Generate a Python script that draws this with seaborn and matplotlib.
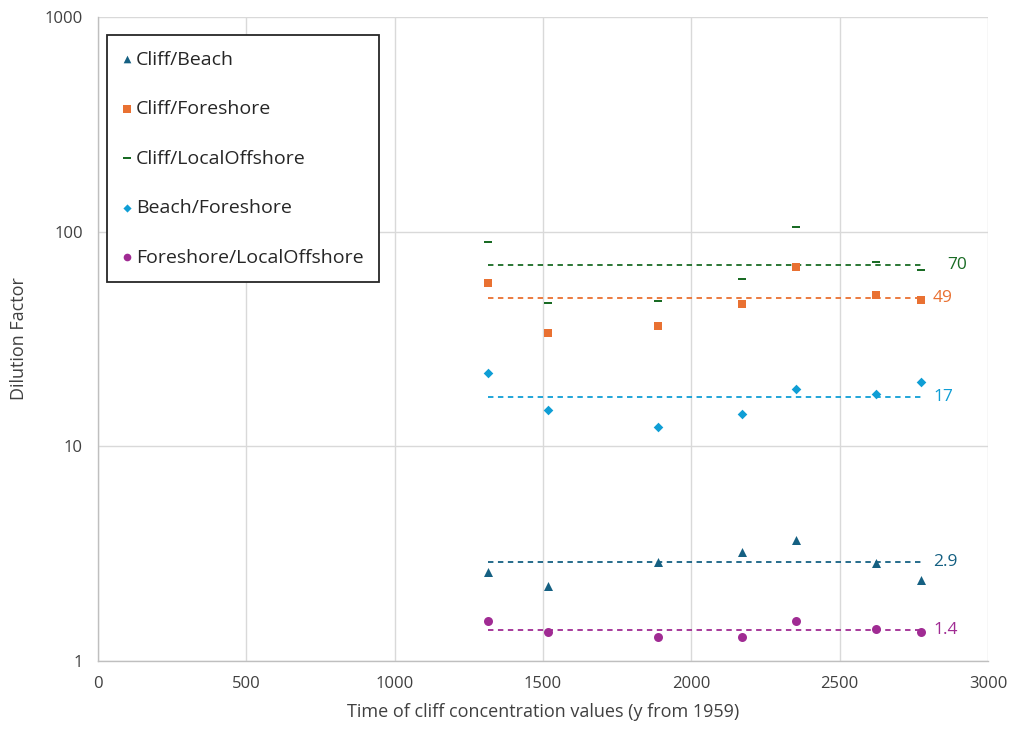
import matplotlib
matplotlib.use("Agg")
import matplotlib.pyplot as plt
import seaborn as sns
import pandas as pd
import numpy as np
from matplotlib.ticker import FixedLocator, NullLocator

# ---- data ----
time_x = [1316, 1517, 1889, 2172, 2354, 2623, 2775]
cliff_beach = [2.61, 2.23, 2.88, 3.23, 3.66, 2.87, 2.38]
cliff_foreshore = [57.6, 33.6, 36.3, 46.0, 68.2, 50.9, 48.3]
cliff_localoffshore = [89.2, 46.3, 47.6, 60.4, 105.0, 72.4, 66.3]
beach_foreshore = [22.0, 14.8, 12.3, 14.1, 18.4, 17.5, 19.9]
foreshore_localoffshore = [1.54, 1.37, 1.30, 1.30, 1.54, 1.41, 1.37]

series_names = ["Cliff/Beach", "Cliff/Foreshore", "Cliff/LocalOffshore",
                "Beach/Foreshore", "Foreshore/LocalOffshore"]
series_values = [cliff_beach, cliff_foreshore, cliff_localoffshore,
                 beach_foreshore, foreshore_localoffshore]
mean_values = [2.9, 49, 70, 17, 1.4]
mean_labels = ["2.9", "49", "70", "17", "1.4"]

colors = {"Cliff/Beach": "#156082", "Cliff/Foreshore": "#E97132",
          "Cliff/LocalOffshore": "#196B24", "Beach/Foreshore": "#0F9ED5",
          "Foreshore/LocalOffshore": "#A02B93"}
dash_marker = [(-1, -0.32), (1, -0.32), (1, 0.32), (-1, 0.32)]
markers = {"Cliff/Beach": "^", "Cliff/Foreshore": "s",
           "Cliff/LocalOffshore": dash_marker, "Beach/Foreshore": "D",
           "Foreshore/LocalOffshore": "o"}
sizes = {"Cliff/Beach": 42, "Cliff/Foreshore": 38,
         "Cliff/LocalOffshore": 40, "Beach/Foreshore": 24,
         "Foreshore/LocalOffshore": 42}

rows = []
for name, vals in zip(series_names, series_values):
    for t, v in zip(time_x, vals):
        rows.append({"time": t, "value": v, "series": name})
df = pd.DataFrame(rows)

sns.set_theme(style="white")
plt.rcParams["font.family"] = ["Open Sans", "DejaVu Sans"]

fig = plt.figure(figsize=(10.13, 7.31), dpi=100)
ax = fig.add_axes([98 / 1013, 1 - 661 / 731, 890 / 1013, 644 / 731])

for name in series_names:
    sub = df[df["series"] == name]
    sns.scatterplot(data=sub, x="time", y="value", ax=ax, color=colors[name],
                    marker=markers[name], s=sizes[name], linewidth=0,
                    label=name, zorder=3)

# mean reference lines
for name, m, lab in zip(series_names, mean_values, mean_labels):
    ax.plot([time_x[0], time_x[-1]], [m, m], linestyle=(0, (3, 2.5)),
            color=colors[name], linewidth=1.3, zorder=2, label="_nolegend_")
    dx = 88 if lab == "70" else 40
    ax.text(time_x[-1] + dx, m, lab, color=colors[name], fontsize=12.5,
            va="center", ha="left", family=["Open Sans", "DejaVu Sans"])

ax.set_yscale("log")
ax.set_xlim(0, 3000)
ax.set_ylim(1, 1000)
ax.set_xticks([0, 500, 1000, 1500, 2000, 2500, 3000])
ax.yaxis.set_major_locator(FixedLocator([1, 10, 100, 1000]))
ax.yaxis.set_minor_locator(NullLocator())
ax.set_yticklabels(["1", "10", "100", "1000"])

ax.grid(True, which="major", color="#D9D9D9", linewidth=1)
ax.set_axisbelow(True)
for sp in ["top", "right"]:
    ax.spines[sp].set_visible(False)
for sp in ["left", "bottom"]:
    ax.spines[sp].set_color("#BFBFBF")
    ax.spines[sp].set_linewidth(1)
ax.tick_params(axis="both", which="major", labelsize=12, colors="#404040",
               length=5, width=1, pad=6)
ax.tick_params(axis="both", color="#BFBFBF")

ax.set_xlabel("Time of cliff concentration values (y from 1959)",
              fontsize=13, color="#404040", labelpad=8)
ax.set_ylabel("Dilution Factor", fontsize=13, color="#404040", labelpad=12)

handles, labels = ax.get_legend_handles_labels()
leg = ax.legend(handles, labels, loc="upper left",
                bbox_to_anchor=(0.01, 0.972), frameon=True, fancybox=False,
                edgecolor="#262626", framealpha=1, fontsize=14,
                labelspacing=1.62, handletextpad=0.25, handlelength=0.45,
                borderpad=0.8, markerscale=0.85, borderaxespad=0)
leg.get_frame().set_linewidth(1.3)
for t in leg.get_texts():
    t.set_color("#262626")

fig.savefig("out.png", dpi=100)
